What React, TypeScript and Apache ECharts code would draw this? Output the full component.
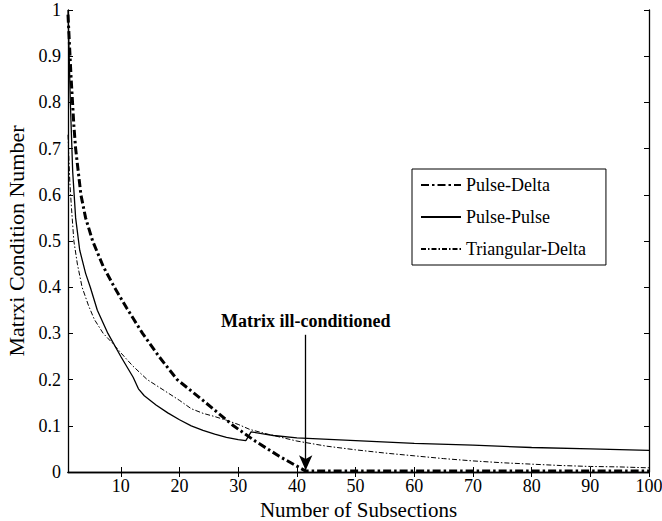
import React, { useEffect, useRef } from "react";
import * as echarts from "echarts";

const xTicks = [10, 20, 30, 40, 50, 60, 70, 80, 90, 100];

const pdX = [1, 1.5, 2, 2.3, 3.2, 4, 5.2, 7, 8.9, 11, 13.7, 16.5, 19.6, 24, 29.2, 33, 37, 41.5, 45, 50, 60, 70, 80, 90, 100];
const pdY = [0.99, 0.86, 0.75, 0.7, 0.6, 0.55, 0.5, 0.445, 0.4, 0.355, 0.3, 0.25, 0.2, 0.155, 0.1, 0.066, 0.034, 0.002, 0.002, 0.002, 0.002, 0.002, 0.002, 0.002, 0.002];

const ppX = [1, 1.4, 1.8, 2.3, 3, 4, 4.8, 6, 7.8, 10, 12.1, 13, 14, 16, 18, 20, 22, 24, 26, 28, 30, 31.3, 32.2, 34, 36, 40, 50, 60, 70, 80, 90, 100];
const ppY = [1.0, 0.8, 0.65, 0.55, 0.48, 0.43, 0.4, 0.35, 0.3, 0.25, 0.205, 0.18, 0.165, 0.145, 0.128, 0.113, 0.1, 0.09, 0.082, 0.075, 0.07, 0.068, 0.087, 0.083, 0.079, 0.074, 0.068, 0.062, 0.058, 0.053, 0.05, 0.047];

const tdX = [1, 1.3, 1.6, 2, 2.6, 3.4, 4.5, 5.5, 7, 8.5, 10, 12, 14.5, 17.2, 20, 22, 24, 26, 28, 30, 32, 35, 40, 45, 50, 55, 60, 65, 70, 75, 80, 85, 90, 95, 100];
const tdY = [0.73, 0.63, 0.57, 0.5, 0.45, 0.4, 0.36, 0.33, 0.3, 0.28, 0.258, 0.23, 0.2, 0.178, 0.155, 0.137, 0.127, 0.12, 0.112, 0.103, 0.092, 0.082, 0.067, 0.056, 0.048, 0.041, 0.035, 0.029, 0.024, 0.02, 0.017, 0.014, 0.012, 0.011, 0.009];

const annotX = 41.5;
const annotTop = 0.297;
const annotBottom = 0.004;

const zip = (xs: number[], ys: number[]) => xs.map((x, i) => [x, ys[i]]);

const FONT = "'Liberation Serif', 'Times New Roman', serif";

export default function App() {
  const ref = useRef<HTMLDivElement>(null);
  useEffect(() => {
    if (!ref.current) return;
    const chart = echarts.init(ref.current, null, { renderer: "svg" });
    const axisLine = { show: true, lineStyle: { color: "#000", width: 1.3 } };
    const tickStyle = { show: true, inside: true, length: 5, lineStyle: { color: "#000", width: 1 } };
    chart.setOption({
      animation: false,
      backgroundColor: "#fff",
      textStyle: { fontFamily: FONT, color: "#000" },
      grid: { left: 68, right: 13, top: 10, bottom: 49, containLabel: false, outerBoundsMode: "none" },
      legend: {
        orient: "vertical",
        left: 412,
        top: 169,
        backgroundColor: "#fff",
        borderColor: "#000",
        borderWidth: 1,
        padding: [7, 20, 7, 8],
        itemWidth: 40,
        itemHeight: 14,
        itemGap: 14,
        itemStyle: { opacity: 0 },
        textStyle: { fontFamily: FONT, fontSize: 18, color: "#000" },
        data: ["Pulse-Delta", "Pulse-Pulse", "Triangular-Delta"],
      },
      xAxis: [
        {
          type: "value",
          min: 1,
          max: 100,
          name: "Number of Subsections",
          nameLocation: "middle",
          nameGap: 19,
          nameTextStyle: { fontFamily: FONT, fontSize: 21, color: "#000", lineHeight: 21 },
          axisLine,
          axisTick: { ...tickStyle, customValues: xTicks },
          axisLabel: { customValues: xTicks, fontFamily: FONT, fontSize: 18, color: "#000", margin: 5 },
          splitLine: { show: false },
        },
        {
          type: "value",
          min: 1,
          max: 100,
          position: "top",
          axisLine,
          axisTick: { ...tickStyle, customValues: xTicks },
          axisLabel: { show: false },
          splitLine: { show: false },
        },
      ],
      yAxis: [
        {
          type: "value",
          min: 0,
          max: 1,
          interval: 0.1,
          name: "Matrxi Condition Number",
          nameLocation: "middle",
          nameGap: 40,
          nameTextStyle: { fontFamily: FONT, fontSize: 22, color: "#000" },
          axisLine,
          axisTick: tickStyle,
          axisLabel: { fontFamily: FONT, fontSize: 18, color: "#000", margin: 7 },
          splitLine: { show: false },
        },
        {
          type: "value",
          min: 0,
          max: 1,
          interval: 0.1,
          position: "right",
          axisLine,
          axisTick: tickStyle,
          axisLabel: { show: false },
          splitLine: { show: false },
        },
      ],
      series: [
        {
          name: "Pulse-Delta",
          type: "line",
          data: zip(pdX, pdY),
          showSymbol: false,
          symbol: "none",
          z: 3,
          lineStyle: { color: "#000", width: 3, type: [8, 3, 2.5, 3] },
          itemStyle: { color: "#000" },
          markLine: {
            silent: true,
            symbol: ["none", "arrow"],
            symbolSize: [10, 15],
            lineStyle: { color: "#000", width: 1.3, type: "solid" },
            label: {
              show: true,
              position: "start",
              distance: 5,
              formatter: "Matrix ill-conditioned",
              fontFamily: FONT,
              fontSize: 18,
              fontWeight: "bold",
              color: "#000",
            },
            data: [[{ coord: [annotX, annotTop] }, { coord: [annotX, annotBottom] }]],
          },
        },
        {
          name: "Pulse-Pulse",
          type: "line",
          data: zip(ppX, ppY),
          showSymbol: false,
          symbol: "none",
          z: 2,
          lineStyle: { color: "#000", width: 1.3, type: "solid" },
          itemStyle: { color: "#000" },
        },
        {
          name: "Triangular-Delta",
          type: "line",
          data: zip(tdX, tdY),
          showSymbol: false,
          symbol: "none",
          z: 2,
          lineStyle: { color: "#000", width: 1, type: [5, 2, 1.5, 2] },
          itemStyle: { color: "#000" },
        },
      ],
    });
    return () => chart.dispose();
  }, []);
  return <div ref={ref} style={{ width: 662, height: 521, position: "absolute", left: 0, top: 0 }} />;
}
